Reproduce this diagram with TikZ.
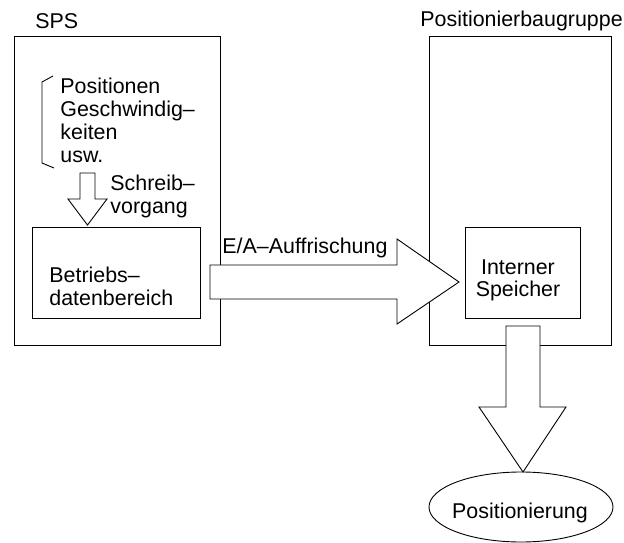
\documentclass[tikz,border=0pt]{standalone}
\usepackage{fontspec}
\setmainfont{Liberation Sans}
\begin{document}
\begin{tikzpicture}[x=1pt,y=-1pt,line width=0.9pt,
  every node/.style={font=\fontsize{21.4}{22.8}\selectfont, inner sep=0pt},
  box/.style={draw, rectangle},
  blockarrow/.style={draw, fill=white, line join=miter}]
\useasboundingbox (0,0) rectangle (624,543);
% outer boxes
\node[box, minimum width=206pt, minimum height=309pt] (sps) at (117,190.5) {};
\node[box, minimum width=182pt, minimum height=309pt] (pos) at (520,190.5) {};
\node[box, minimum width=168pt, minimum height=91pt] (bdb) at (116,272.5) {};
\node[box, minimum width=115pt, minimum height=91pt] (mem) at (522.5,272.5) {};
% labels
\node[anchor=base west] (spslabel) at (35,29) {SPS};
\node[anchor=base west] (poslabel) at (420,27) {Positionierbaugruppe};
\node[anchor=north west, align=left] (params) at (60,78) {Positionen\\Geschwindig–\\keiten\\usw.};
\draw (53,76) -- (42,82) -- (42,163) -- (54,168);
\node[anchor=north west, align=left] (write) at (110,175) {Schreib–\\vorgang};
\node[anchor=north west, align=left] (bdbtext) at (49,267) {Betriebs–\\datenbereich};
\node[anchor=north, align=center] (memtext) at (518,259) {Interner\\Speicher};
% small down arrow
\coordinate (tipA) at (87.5,225);
\draw[blockarrow] (80,173) -- (95,173) -- (95,199) -- (107,199) -- (tipA) -- (68,199) -- (80,199) -- cycle;
% big right arrow
\draw[blockarrow] (210,265) -- (397,265) -- (397,239) -- (459,282) -- (397,324) -- (397,299) -- (210,299) -- cycle;
\node[anchor=base west] (ea) at (222,253) {E/A–Auffrischung};
% down arrow to positioning
\draw[blockarrow] (506,326) -- (540,326) -- (540,407) -- (566,407) -- (523,472) -- (479,407) -- (506,407) -- cycle;
% ellipse
\draw (521,507) ellipse [x radius=92, y radius=35];
\node[anchor=base] (positionierung) at (520,518) {Positionierung};
\end{tikzpicture}
\end{document}
